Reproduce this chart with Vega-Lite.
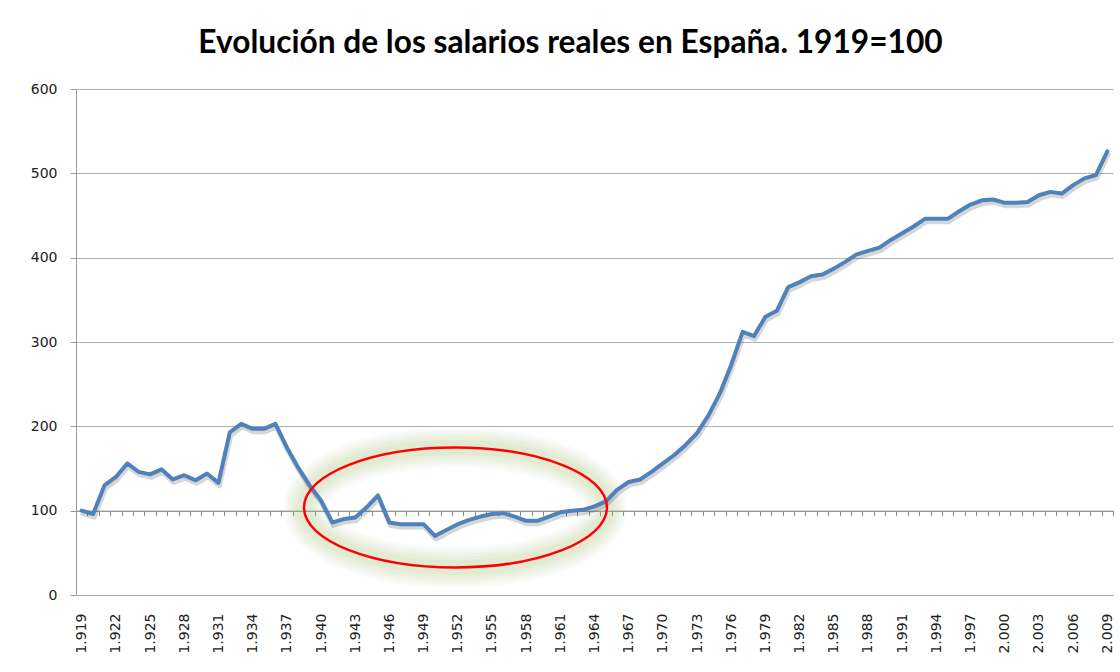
{
  "$schema": "https://vega.github.io/schema/vega-lite/v6.json",
  "autosize": {"type": "none"},
  "width": 1037,
  "height": 506,
  "padding": {"left": 76, "top": 89, "right": 7, "bottom": 77},
  "background": "#ffffff",
  "title": {
    "text": "Evolución de los salarios reales en España. 1919=100",
    "font": "Lato",
    "fontSize": 31.7,
    "fontWeight": "bold",
    "color": "#000000",
    "anchor": "middle",
    "baseline": "alphabetic",
    "dx": -24,
    "offset": -3
  },
  "config": {
    "view": {"stroke": null},
    "axis": {"labelFont": "DejaVu Sans", "labelFontSize": 14, "labelColor": "#222222"}
  },
  "datasets": {
    "salarios": [
      {"anio": 1919, "valor": 100}, {"anio": 1920, "valor": 96}, {"anio": 1921, "valor": 130},
      {"anio": 1922, "valor": 140}, {"anio": 1923, "valor": 156}, {"anio": 1924, "valor": 146},
      {"anio": 1925, "valor": 143}, {"anio": 1926, "valor": 149}, {"anio": 1927, "valor": 137},
      {"anio": 1928, "valor": 142}, {"anio": 1929, "valor": 136}, {"anio": 1930, "valor": 144},
      {"anio": 1931, "valor": 133}, {"anio": 1932, "valor": 193}, {"anio": 1933, "valor": 203},
      {"anio": 1934, "valor": 197}, {"anio": 1935, "valor": 197}, {"anio": 1936, "valor": 203},
      {"anio": 1937, "valor": 175}, {"anio": 1938, "valor": 151}, {"anio": 1939, "valor": 130},
      {"anio": 1940, "valor": 112}, {"anio": 1941, "valor": 86}, {"anio": 1942, "valor": 90},
      {"anio": 1943, "valor": 92}, {"anio": 1944, "valor": 104}, {"anio": 1945, "valor": 118},
      {"anio": 1946, "valor": 86}, {"anio": 1947, "valor": 84}, {"anio": 1948, "valor": 84},
      {"anio": 1949, "valor": 84}, {"anio": 1950, "valor": 70}, {"anio": 1951, "valor": 77},
      {"anio": 1952, "valor": 84}, {"anio": 1953, "valor": 89}, {"anio": 1954, "valor": 93},
      {"anio": 1955, "valor": 96}, {"anio": 1956, "valor": 97}, {"anio": 1957, "valor": 93},
      {"anio": 1958, "valor": 88}, {"anio": 1959, "valor": 88}, {"anio": 1960, "valor": 93},
      {"anio": 1961, "valor": 98}, {"anio": 1962, "valor": 100}, {"anio": 1963, "valor": 101},
      {"anio": 1964, "valor": 105}, {"anio": 1965, "valor": 111}, {"anio": 1966, "valor": 125},
      {"anio": 1967, "valor": 134}, {"anio": 1968, "valor": 137}, {"anio": 1969, "valor": 146},
      {"anio": 1970, "valor": 156}, {"anio": 1971, "valor": 166}, {"anio": 1972, "valor": 178},
      {"anio": 1973, "valor": 192}, {"anio": 1974, "valor": 213}, {"anio": 1975, "valor": 239},
      {"anio": 1976, "valor": 273}, {"anio": 1977, "valor": 312}, {"anio": 1978, "valor": 307},
      {"anio": 1979, "valor": 330}, {"anio": 1980, "valor": 337}, {"anio": 1981, "valor": 365},
      {"anio": 1982, "valor": 371}, {"anio": 1983, "valor": 378}, {"anio": 1984, "valor": 380},
      {"anio": 1985, "valor": 387}, {"anio": 1986, "valor": 395}, {"anio": 1987, "valor": 404},
      {"anio": 1988, "valor": 408}, {"anio": 1989, "valor": 412}, {"anio": 1990, "valor": 421},
      {"anio": 1991, "valor": 429}, {"anio": 1992, "valor": 437}, {"anio": 1993, "valor": 446},
      {"anio": 1994, "valor": 446}, {"anio": 1995, "valor": 446}, {"anio": 1996, "valor": 455},
      {"anio": 1997, "valor": 463}, {"anio": 1998, "valor": 468}, {"anio": 1999, "valor": 469},
      {"anio": 2000, "valor": 465}, {"anio": 2001, "valor": 465}, {"anio": 2002, "valor": 466},
      {"anio": 2003, "valor": 474}, {"anio": 2004, "valor": 478}, {"anio": 2005, "valor": 476},
      {"anio": 2006, "valor": 486}, {"anio": 2007, "valor": 494}, {"anio": 2008, "valor": 498},
      {"anio": 2009, "valor": 526}
    ],
    "marca": [{"anio": 1951.8, "valor": 103.8}]
  },
  "encoding": {
    "y": {
      "field": "valor",
      "type": "quantitative",
      "scale": {"domain": [0, 600], "nice": false, "zero": true},
      "axis": {
        "title": null,
        "values": [0, 100, 200, 300, 400, 500, 600],
        "grid": true,
        "gridColor": "#b3b3b3",
        "gridWidth": 1,
        "domain": true,
        "domainColor": "#9a9a9a",
        "ticks": true,
        "tickSize": 6,
        "tickColor": "#9a9a9a",
        "labelPadding": 13
      }
    }
  },
  "layer": [
    {
      "data": {"name": "marca"},
      "mark": {"type": "point", "shape": "M-1,0C-1,-0.2187,-0.5523,-0.396,0,-0.396C0.5523,-0.396,1,-0.2187,1,0C1,0.2187,0.5523,0.396,0,0.396C-0.5523,0.396,-1,0.2187,-1,0Z", "size": 91809, "filled": false, "stroke": "#a9c47a", "strokeWidth": 40, "opacity": 0.05},
      "encoding": {"x": {"field": "anio", "type": "quantitative", "scale": {"domain": [1918.5, 2009.5], "nice": false, "zero": false}, "axis": null}}
    },
    {
      "data": {"name": "marca"},
      "mark": {"type": "point", "shape": "M-1,0C-1,-0.2187,-0.5523,-0.396,0,-0.396C0.5523,-0.396,1,-0.2187,1,0C1,0.2187,0.5523,0.396,0,0.396C-0.5523,0.396,-1,0.2187,-1,0Z", "size": 91809, "filled": false, "stroke": "#a9c47a", "strokeWidth": 34, "opacity": 0.06},
      "encoding": {"x": {"field": "anio", "type": "quantitative", "scale": {"domain": [1918.5, 2009.5], "nice": false, "zero": false}, "axis": null}}
    },
    {
      "data": {"name": "marca"},
      "mark": {"type": "point", "shape": "M-1,0C-1,-0.2187,-0.5523,-0.396,0,-0.396C0.5523,-0.396,1,-0.2187,1,0C1,0.2187,0.5523,0.396,0,0.396C-0.5523,0.396,-1,0.2187,-1,0Z", "size": 91809, "filled": false, "stroke": "#a9c47a", "strokeWidth": 28, "opacity": 0.07},
      "encoding": {"x": {"field": "anio", "type": "quantitative", "scale": {"domain": [1918.5, 2009.5], "nice": false, "zero": false}, "axis": null}}
    },
    {
      "data": {"name": "marca"},
      "mark": {"type": "point", "shape": "M-1,0C-1,-0.2187,-0.5523,-0.396,0,-0.396C0.5523,-0.396,1,-0.2187,1,0C1,0.2187,0.5523,0.396,0,0.396C-0.5523,0.396,-1,0.2187,-1,0Z", "size": 91809, "filled": false, "stroke": "#a9c47a", "strokeWidth": 22, "opacity": 0.08},
      "encoding": {"x": {"field": "anio", "type": "quantitative", "scale": {"domain": [1918.5, 2009.5], "nice": false, "zero": false}, "axis": null}}
    },
    {
      "data": {"name": "marca"},
      "mark": {"type": "point", "shape": "M-1,0C-1,-0.2187,-0.5523,-0.396,0,-0.396C0.5523,-0.396,1,-0.2187,1,0C1,0.2187,0.5523,0.396,0,0.396C-0.5523,0.396,-1,0.2187,-1,0Z", "size": 91809, "filled": false, "stroke": "#a9c47a", "strokeWidth": 15, "opacity": 0.09},
      "encoding": {"x": {"field": "anio", "type": "quantitative", "scale": {"domain": [1918.5, 2009.5], "nice": false, "zero": false}, "axis": null}}
    },
    {
      "data": {"name": "salarios"},
      "mark": {"type": "line", "stroke": "#000000", "strokeWidth": 5, "opacity": 0.16, "xOffset": 1, "yOffset": 3, "strokeJoin": "round", "strokeCap": "round"},
      "encoding": {
        "x": {
          "field": "anio", "type": "quantitative",
          "scale": {"domain": [1918.5, 2009.5], "nice": false, "zero": false},
          "axis": {
            "orient": "bottom",
            "offset": -84.33,
            "title": null,
            "labels": false,
            "grid": false,
            "ticks": true,
            "tickSize": 5,
            "tickColor": "#8a8a8a",
            "domain": true,
            "domainColor": "#8a8a8a",
            "values": [1918.5,1919.5,1920.5,1921.5,1922.5,1923.5,1924.5,1925.5,1926.5,1927.5,1928.5,1929.5,1930.5,1931.5,1932.5,1933.5,1934.5,1935.5,1936.5,1937.5,1938.5,1939.5,1940.5,1941.5,1942.5,1943.5,1944.5,1945.5,1946.5,1947.5,1948.5,1949.5,1950.5,1951.5,1952.5,1953.5,1954.5,1955.5,1956.5,1957.5,1958.5,1959.5,1960.5,1961.5,1962.5,1963.5,1964.5,1965.5,1966.5,1967.5,1968.5,1969.5,1970.5,1971.5,1972.5,1973.5,1974.5,1975.5,1976.5,1977.5,1978.5,1979.5,1980.5,1981.5,1982.5,1983.5,1984.5,1985.5,1986.5,1987.5,1988.5,1989.5,1990.5,1991.5,1992.5,1993.5,1994.5,1995.5,1996.5,1997.5,1998.5,1999.5,2000.5,2001.5,2002.5,2003.5,2004.5,2005.5,2006.5,2007.5,2008.5,2009.5]
          }
        }
      }
    },
    {
      "data": {"name": "salarios"},
      "mark": {"type": "line", "stroke": "#4f81bd", "strokeWidth": 4, "strokeJoin": "round", "strokeCap": "round"},
      "encoding": {
        "x": {
          "field": "anio", "type": "quantitative",
          "scale": {"domain": [1918.5, 2009.5], "nice": false, "zero": false},
          "axis": {
            "orient": "bottom",
            "title": null,
            "grid": false,
            "ticks": false,
            "domain": true,
            "domainColor": "#a6a6a6",
            "labelAngle": 270,
            "labelPadding": 18,
            "labelFlush": false,
            "labelOverlap": false,
            "labelBound": false,
            "labelExpr": "replace(format(datum.value, ','), ',', '.')",
            "values": [1919,1922,1925,1928,1931,1934,1937,1940,1943,1946,1949,1952,1955,1958,1961,1964,1967,1970,1973,1976,1979,1982,1985,1988,1991,1994,1997,2000,2003,2006,2009]
          }
        }
      }
    },
    {
      "data": {"name": "marca"},
      "mark": {"type": "point", "shape": "M-1,0C-1,-0.2187,-0.5523,-0.396,0,-0.396C0.5523,-0.396,1,-0.2187,1,0C1,0.2187,0.5523,0.396,0,0.396C-0.5523,0.396,-1,0.2187,-1,0Z", "size": 91809, "filled": false, "stroke": "#ff0000", "strokeWidth": 2.5, "opacity": 1},
      "encoding": {"x": {"field": "anio", "type": "quantitative", "scale": {"domain": [1918.5, 2009.5], "nice": false, "zero": false}, "axis": null}}
    }
  ],
  "resolve": {"axis": {"x": "independent"}}
}
